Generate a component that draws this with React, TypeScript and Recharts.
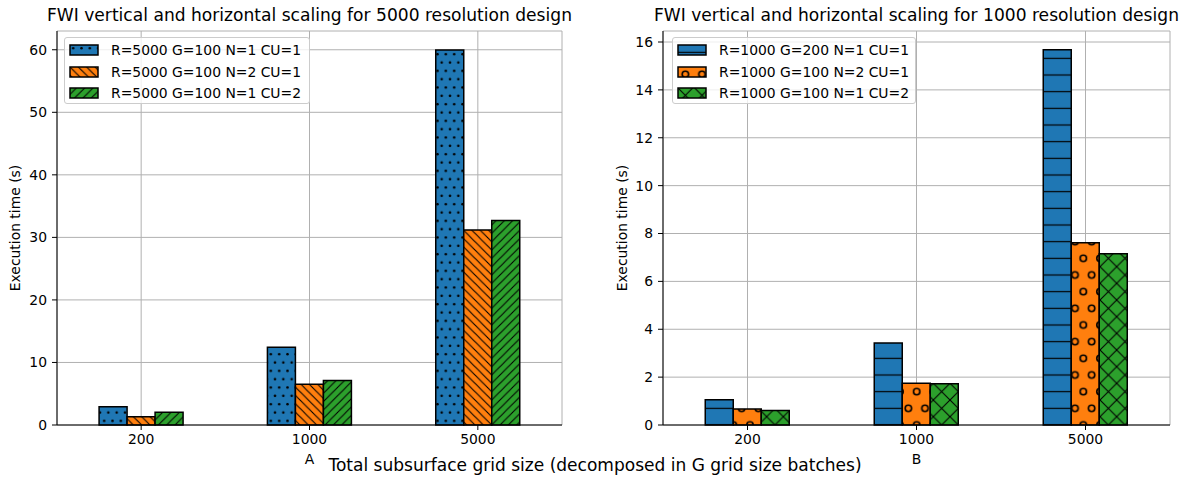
import React from "react";
import {
  BarChart,
  Bar,
  XAxis,
  YAxis,
  CartesianGrid,
} from "recharts";

const categories = ["200", "1000", "5000"];

// left panel: 5000 resolution design
const r5000N1Cu1 = [2.93, 12.43, 59.95];
const r5000N2Cu1 = [1.33, 6.5, 31.2];
const r5000N1Cu2 = [2.03, 7.1, 32.7];
const leftNames = [
  "R=5000 G=100 N=1 CU=1",
  "R=5000 G=100 N=2 CU=1",
  "R=5000 G=100 N=1 CU=2",
];
const leftTicks = [0, 10, 20, 30, 40, 50, 60];

// right panel: 1000 resolution design
const r1000G200N1Cu1 = [1.05, 3.43, 15.68];
const r1000N2Cu1 = [0.67, 1.74, 7.61];
const r1000N1Cu2 = [0.61, 1.72, 7.15];
const rightNames = [
  "R=1000 G=200 N=1 CU=1",
  "R=1000 G=100 N=2 CU=1",
  "R=1000 G=100 N=1 CU=2",
];
const rightTicks = [0, 2, 4, 6, 8, 10, 12, 14, 16];

const BLUE = "#1f77b4";
const ORANGE = "#ff7f0e";
const GREEN = "#2ca02c";
const FONT = "DejaVu Sans, sans-serif";

const leftData = categories.map((cat, i) => ({
  cat,
  s0: r5000N1Cu1[i],
  s1: r5000N2Cu1[i],
  s2: r5000N1Cu2[i],
}));
const rightData = categories.map((cat, i) => ({
  cat,
  s0: r1000G200N1Cu1[i],
  s1: r1000N2Cu1[i],
  s2: r1000N1Cu2[i],
}));

function Hatches() {
  const u = 100 / 12;
  const U = 100 / 6;
  return (
    <defs>
      <pattern id="h-dots" patternUnits="userSpaceOnUse" width={u} height={2 * u}>
        <rect width={u} height={2 * u} fill={BLUE} />
        <circle cx={u / 2} cy={u / 2} r={1.3} fill="#000" />
        <circle cx={0} cy={1.5 * u} r={1.3} fill="#000" />
        <circle cx={u} cy={1.5 * u} r={1.3} fill="#000" />
      </pattern>
      <pattern id="h-back" patternUnits="userSpaceOnUse" width={u} height={u}>
        <rect width={u} height={u} fill={ORANGE} />
        <path
          d={`M0,0L${u},${u}M-1,${u - 1}L1,${u + 1}M${u - 1},-1L${u + 1},1`}
          stroke="#000"
          strokeWidth={1.1}
        />
      </pattern>
      <pattern id="h-fwd" patternUnits="userSpaceOnUse" width={u} height={u}>
        <rect width={u} height={u} fill={GREEN} />
        <path
          d={`M0,${u}L${u},0M-1,1L1,-1M${u - 1},${u + 1}L${u + 1},${u - 1}`}
          stroke="#000"
          strokeWidth={1.1}
        />
      </pattern>
      <pattern id="h-hline" patternUnits="userSpaceOnUse" width={U} height={U}>
        <rect width={U} height={U} fill={BLUE} />
        <path d={`M0,${U / 2}L${U},${U / 2}`} stroke="#000" strokeWidth={1.2} />
      </pattern>
      <pattern id="h-ring" patternUnits="userSpaceOnUse" width={U} height={2 * U}>
        <rect width={U} height={2 * U} fill={ORANGE} />
        <circle cx={U / 2} cy={U / 2} r={3.2} fill="none" stroke="#000" strokeWidth={1.6} />
        <circle cx={0} cy={1.5 * U} r={3.2} fill="none" stroke="#000" strokeWidth={1.6} />
        <circle cx={U} cy={1.5 * U} r={3.2} fill="none" stroke="#000" strokeWidth={1.6} />
      </pattern>
      <pattern id="h-cross" patternUnits="userSpaceOnUse" width={U} height={U}>
        <rect width={U} height={U} fill={GREEN} />
        <path d={`M0,0L${U},${U}M0,${U}L${U},0`} stroke="#000" strokeWidth={1.1} />
      </pattern>
    </defs>
  );
}

const tickStyle = { fill: "#000", fontSize: 13.9, fontFamily: FONT };

function Panel({
  data,
  fills,
  ticks,
  yMax,
  width,
  yAxisWidth,
  right,
}: {
  data: any[];
  fills: string[];
  ticks: number[];
  yMax: number;
  width: number;
  yAxisWidth: number;
  right: number;
}) {
  return (
    <BarChart
      width={width}
      height={479}
      data={data}
      margin={{ top: 31, right, bottom: 0, left: 0 }}
      barCategoryGap="25%"
      barGap={0}
    >
      <Hatches />
      <XAxis
        dataKey="cat"
        height={54}
        tick={tickStyle}
        tickSize={5}
        tickMargin={4}
        tickLine={{ stroke: "#000" }}
        axisLine={{ stroke: "#000" }}
      />
      <XAxis
        xAxisId="top"
        dataKey="cat"
        orientation="top"
        height={0}
        tick={false}
        tickLine={false}
        axisLine={{ stroke: "#000" }}
      />
      <YAxis
        width={yAxisWidth}
        domain={[0, yMax]}
        ticks={ticks}
        tick={tickStyle}
        tickSize={5}
        tickMargin={5}
        tickLine={{ stroke: "#000" }}
        axisLine={{ stroke: "#000" }}
      />
      <YAxis
        yAxisId="right"
        orientation="right"
        width={0}
        domain={[0, yMax]}
        tick={false}
        tickLine={false}
        axisLine={{ stroke: "#000" }}
      />
      {["s0", "s1", "s2"].map((k, i) => (
        <Bar
          key={k}
          dataKey={k}
          fill={fills[i]}
          stroke="#000"
          strokeWidth={1.5}
          isAnimationActive={false}
        />
      ))}
      <CartesianGrid stroke="#b0b0b0" strokeWidth={1} />
    </BarChart>
  );
}

function LegendBox({
  names,
  fills,
  left,
  width,
}: {
  names: string[];
  fills: string[];
  left: number;
  width: number;
}) {
  return (
    <div
      style={{
        position: "absolute",
        left,
        top: 37,
        width,
        height: 67,
        border: "1px solid #cccccc",
        borderRadius: 3,
        background: "rgba(255,255,255,0.8)",
        boxSizing: "border-box",
      }}
    >
      {names.map((n, i) => (
        <div
          key={n}
          style={{
            position: "absolute",
            left: 4,
            top: 6 + i * 21.5,
            height: 12,
            display: "flex",
            alignItems: "center",
            whiteSpace: "nowrap",
          }}
        >
          <svg width={30} height={12} style={{ display: "block" }}>
            <rect x={1} y={1} width={28} height={10} fill={fills[i]} stroke="#000" strokeWidth={1.5} />
          </svg>
          <span
            style={{
              marginLeft: 12,
              fontSize: 13.9,
              fontFamily: FONT,
              lineHeight: "12px",
              color: "#000",
            }}
          >
            {n}
          </span>
        </div>
      ))}
    </div>
  );
}

function Txt({
  x,
  y,
  size,
  text,
  rotate,
}: {
  x: number;
  y: number;
  size: number;
  text: string;
  rotate?: boolean;
}) {
  return (
    <div
      style={{
        position: "absolute",
        left: x,
        top: y,
        transform: `translate(-50%, -50%)${rotate ? " rotate(-90deg)" : ""}`,
        fontSize: size,
        fontFamily: FONT,
        whiteSpace: "nowrap",
        lineHeight: 1,
        color: "#000",
      }}
    >
      {text}
    </div>
  );
}

export default function App() {
  const leftFills = ["url(#h-dots)", "url(#h-back)", "url(#h-fwd)"];
  const rightFills = ["url(#h-hline)", "url(#h-ring)", "url(#h-cross)"];
  return (
    <div
      style={{
        position: "absolute",
        left: 0,
        top: 0,
        width: 1185,
        height: 479,
        background: "#fff",
        overflow: "hidden",
      }}
    >
      <div style={{ position: "absolute", left: 0, top: 0 }}>
        <Panel
          data={leftData}
          fills={leftFills}
          ticks={leftTicks}
          yMax={63}
          width={580}
          yAxisWidth={57}
          right={18}
        />
      </div>
      <div style={{ position: "absolute", left: 600, top: 0 }}>
        <Panel
          data={rightData}
          fills={rightFills}
          ticks={rightTicks}
          yMax={16.46}
          width={585}
          yAxisWidth={63}
          right={15}
        />
      </div>
      <LegendBox names={leftNames} fills={leftFills} left={64} width={246} />
      <LegendBox names={rightNames} fills={rightFills} left={672} width={244} />
      <Txt x={309.5} y={16} size={17.1} text="FWI vertical and horizontal scaling for 5000 resolution design" />
      <Txt x={916.5} y={16} size={17.1} text="FWI vertical and horizontal scaling for 1000 resolution design" />
      <Txt x={16} y={228} size={13.9} text="Execution time (s)" rotate />
      <Txt x={623} y={228} size={13.9} text="Execution time (s)" rotate />
      <Txt x={309.5} y={460} size={13.9} text="A" />
      <Txt x={916.5} y={460} size={13.9} text="B" />
      <Txt x={595} y={466} size={17.05} text="Total subsurface grid size (decomposed in G grid size batches)" />
    </div>
  );
}
